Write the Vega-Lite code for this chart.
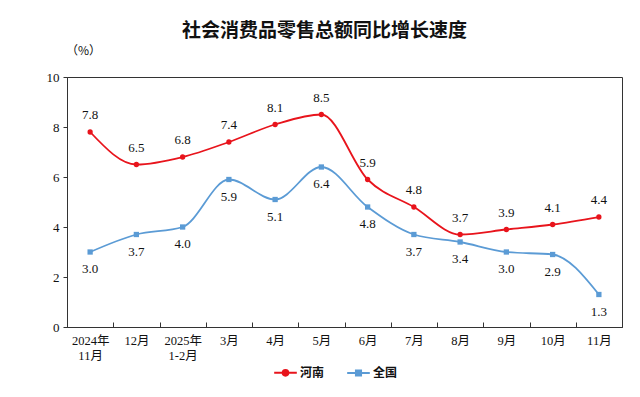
{
  "$schema": "https://vega.github.io/schema/vega-lite/v6.json",
  "width": 555,
  "height": 250,
  "autosize": "none",
  "padding": {"left": 67, "top": 77, "right": 18, "bottom": 70},
  "background": "white",
  "title": {
    "text": "社会消费品零售总额同比增长速度",
    "font": "Noto Sans CJK SC",
    "fontSize": 19,
    "fontWeight": "bold",
    "color": "#111",
    "anchor": "middle",
    "dx": -20,
    "offset": 3
  },
  "config": {
    "view": {"stroke": "#333", "strokeWidth": 1},
    "axis": {"grid": false, "domainColor": "#333", "tickColor": "#333", "labelColor": "#111", "labelFont": "Liberation Serif, Noto Sans CJK SC", "labelFontSize": 12.5}
  },
  "data": {
    "values": [
      {"month": "2024年|11月", "series": "河南", "value": 7.8},
      {"month": "12月", "series": "河南", "value": 6.5},
      {"month": "2025年|1-2月", "series": "河南", "value": 6.8},
      {"month": "3月", "series": "河南", "value": 7.4},
      {"month": "4月", "series": "河南", "value": 8.1},
      {"month": "5月", "series": "河南", "value": 8.5},
      {"month": "6月", "series": "河南", "value": 5.9},
      {"month": "7月", "series": "河南", "value": 4.8},
      {"month": "8月", "series": "河南", "value": 3.7},
      {"month": "9月", "series": "河南", "value": 3.9},
      {"month": "10月", "series": "河南", "value": 4.1},
      {"month": "11月", "series": "河南", "value": 4.4},
      {"month": "2024年|11月", "series": "全国", "value": 3.0},
      {"month": "12月", "series": "全国", "value": 3.7},
      {"month": "2025年|1-2月", "series": "全国", "value": 4.0},
      {"month": "3月", "series": "全国", "value": 5.9},
      {"month": "4月", "series": "全国", "value": 5.1},
      {"month": "5月", "series": "全国", "value": 6.4},
      {"month": "6月", "series": "全国", "value": 4.8},
      {"month": "7月", "series": "全国", "value": 3.7},
      {"month": "8月", "series": "全国", "value": 3.4},
      {"month": "9月", "series": "全国", "value": 3.0},
      {"month": "10月", "series": "全国", "value": 2.9},
      {"month": "11月", "series": "全国", "value": 1.3}
    ]
  },
  "encoding": {
    "x": {
      "field": "month", "type": "ordinal", "sort": null,
      "scale": {"type": "band", "paddingInner": 0, "paddingOuter": 0},
      "axis": {
        "title": null, "labelAngle": 0, "tickBand": "extent", "tickSize": -5,
        "labelPadding": 12, "labelExpr": "split(datum.label, '|')", "labelLineHeight": 15
      }
    },
    "y": {
      "field": "value", "type": "quantitative",
      "scale": {"domain": [0, 10]},
      "axis": {
        "values": [0, 2, 4, 6, 8, 10], "tickSize": 4, "labelPadding": 4, "labelFontSize": 13,
        "title": "（%）", "titleAngle": 0, "titleX": 16, "titleY": -27,
        "titleFont": "Noto Sans CJK SC", "titleFontSize": 12, "titleFontWeight": "normal", "titleColor": "#111", "titleAlign": "center", "titleBaseline": "middle"
      }
    },
    "color": {
      "field": "series", "type": "nominal",
      "scale": {"domain": ["河南", "全国"], "range": ["#e8141c", "#5b9bd5"]},
      "legend": {
        "orient": "none", "legendX": 210, "legendY": 287, "direction": "horizontal", "title": null,
        "labelFont": "Noto Sans CJK SC", "labelFontSize": 12, "labelFontWeight": "bold", "labelColor": "#111",
        "symbolType": "M-1.6,0H1.6M-0.4,0A0.4,0.4,0,1,0,0.4,0A0.4,0.4,0,1,0,-0.4,0Z",
        "symbolSize": 200, "symbolStrokeWidth": 2, "columnPadding": 18, "labelOffset": 6,
        "encode": {
          "symbols": {
            "update": {
              "shape": {"signal": "datum.value === '河南' ? 'M-1.6,0H1.6M-0.4,0A0.4,0.4,0,1,0,0.4,0A0.4,0.4,0,1,0,-0.4,0Z' : 'M-1.6,0H1.6M-0.36,-0.36H0.36V0.36H-0.36Z'"},
              "fill": {"signal": "datum.value === '河南' ? '#e8141c' : '#5b9bd5'"},
              "stroke": {"signal": "datum.value === '河南' ? '#e8141c' : '#5b9bd5'"},
              "strokeWidth": {"value": 2},
              "opacity": {"value": 1},
              "fillOpacity": {"value": 1}
            }
          }
        }
      }
    }
  },
  "layer": [
    {"mark": {"type": "line", "interpolate": "monotone", "strokeWidth": 1.8}},
    {
      "transform": [{"filter": "datum.series === '河南'"}],
      "mark": {"type": "point", "filled": true, "opacity": 1, "shape": "circle", "size": 28}
    },
    {
      "transform": [{"filter": "datum.series === '全国'"}],
      "mark": {"type": "point", "filled": true, "opacity": 1, "shape": "square", "size": 28}
    },
    {
      "transform": [{"filter": "datum.series === '河南'"}],
      "mark": {"type": "text", "dy": -17, "font": "Liberation Serif", "fontSize": 13, "baseline": "middle"},
      "encoding": {"text": {"field": "value", "type": "quantitative", "format": ".1f"}, "color": {"value": "#111"}}
    },
    {
      "transform": [{"filter": "datum.series === '全国'"}],
      "mark": {"type": "text", "dy": 17, "font": "Liberation Serif", "fontSize": 13, "baseline": "middle"},
      "encoding": {"text": {"field": "value", "type": "quantitative", "format": ".1f"}, "color": {"value": "#111"}}
    }
  ]
}
